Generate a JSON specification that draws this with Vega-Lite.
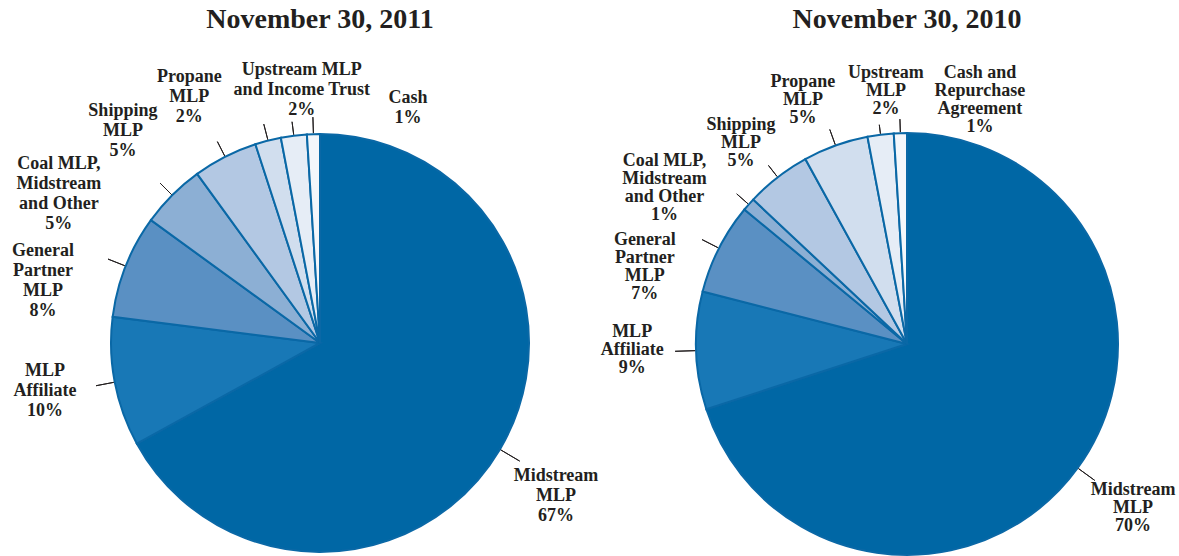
{
  "$schema": "https://vega.github.io/schema/vega-lite/v6.json",
  "padding": {"top": 5, "left": 0, "right": 0, "bottom": 0},
  "spacing": 0,
  "bounds": "flush",
  "background": "white",
  "config": {"view": {"stroke": null}},
  "datasets": {
    "y2011": [
      {"rank": 1, "label": "Midstream\nMLP", "value": 67},
      {"rank": 2, "label": "MLP\nAffiliate", "value": 10},
      {"rank": 3, "label": "General\nPartner\nMLP", "value": 8},
      {"rank": 4, "label": "Coal MLP,\nMidstream\nand Other", "value": 5},
      {"rank": 5, "label": "Shipping\nMLP", "value": 5},
      {"rank": 6, "label": "Propane\nMLP", "value": 2},
      {"rank": 7, "label": "Upstream MLP\nand Income Trust", "value": 2},
      {"rank": 8, "label": "Cash", "value": 1}
    ],
    "y2010": [
      {"rank": 1, "label": "Midstream\nMLP", "value": 70},
      {"rank": 2, "label": "MLP\nAffiliate", "value": 9},
      {"rank": 3, "label": "General\nPartner\nMLP", "value": 7},
      {"rank": 4, "label": "Coal MLP,\nMidstream\nand Other", "value": 1},
      {"rank": 5, "label": "Shipping\nMLP", "value": 5},
      {"rank": 6, "label": "Propane\nMLP", "value": 5},
      {"rank": 7, "label": "Upstream\nMLP", "value": 2},
      {"rank": 8, "label": "Cash and\nRepurchase\nAgreement", "value": 1}
    ]
  },
  "hconcat": [
    {
      "width": 640,
      "height": 420,
      "title": {"text": "November 30, 2011", "font": "Liberation Serif", "fontWeight": "bold", "fontSize": 28, "color": "#231f20", "offset": 27, "frame": "group", "anchor": "middle"},
      "data": {"name": "y2011"},
      "transform": [
        {"window": [{"op": "sum", "field": "value", "as": "cum"}], "sort": [{"field": "rank"}], "frame": [null, 0]},
        {"calculate": "datum.cum - datum.value / 2", "as": "mid"},
        {"calculate": "datum.label + '\\n' + datum.value + '%'", "as": "text"}
      ],
      "layer": [
        {
          "mark": {"type": "arc", "outerRadius": 209, "stroke": "#0a68a6", "strokeWidth": 2},
          "encoding": {
            "theta": {"field": "value", "type": "quantitative", "stack": true, "scale": {"domain": [0, 100]}},
            "order": {"field": "rank", "type": "quantitative"},
            "color": {"field": "rank", "type": "ordinal", "legend": null, "scale": {"domain": [1, 2, 3, 4, 5, 6, 7, 8], "range": ["#0067a5", "#1878b6", "#5a90c3", "#8cafd4", "#b3c8e3", "#d1deee", "#e6edf6", "#f4f7fb"]}}
          }
        },
        {"transform": [{"filter": "datum.rank == 1"}], "layer": [
          {"mark": {"type": "arc", "innerRadius": 210, "outerRadius": 232, "stroke": "#231f20", "strokeWidth": 1, "fill": "transparent"}, "encoding": {"theta": {"field": "mid", "type": "quantitative", "stack": null, "scale": {"domain": [0, 100]}}, "theta2": {"field": "mid"}}},
          {"mark": {"type": "text", "radius": 280, "dx": -5, "dy": -10, "font": "Liberation Serif", "fontWeight": "bold", "fontSize": 18, "lineHeight": 20, "lineBreak": "\n", "fill": "#231f20", "align": "center", "baseline": "middle"}, "encoding": {"theta": {"field": "mid", "type": "quantitative", "stack": null, "scale": {"domain": [0, 100]}}, "text": {"field": "text"}}}
        ]},
        {"transform": [{"filter": "datum.rank == 2"}], "layer": [
          {"mark": {"type": "arc", "innerRadius": 210, "outerRadius": 228, "stroke": "#231f20", "strokeWidth": 1, "fill": "transparent"}, "encoding": {"theta": {"field": "mid", "type": "quantitative", "stack": null, "scale": {"domain": [0, 100]}}, "theta2": {"field": "mid"}}},
          {"mark": {"type": "text", "radius": 279, "dx": -1, "dy": -24.5, "font": "Liberation Serif", "fontWeight": "bold", "fontSize": 18, "lineHeight": 20, "lineBreak": "\n", "fill": "#231f20", "align": "center", "baseline": "middle"}, "encoding": {"theta": {"field": "mid", "type": "quantitative", "stack": null, "scale": {"domain": [0, 100]}}, "text": {"field": "text"}}}
        ]},
        {"transform": [{"filter": "datum.rank == 3"}], "layer": [
          {"mark": {"type": "arc", "innerRadius": 210, "outerRadius": 228, "stroke": "#231f20", "strokeWidth": 1, "fill": "transparent"}, "encoding": {"theta": {"field": "mid", "type": "quantitative", "stack": null, "scale": {"domain": [0, 100]}}, "theta2": {"field": "mid"}}},
          {"mark": {"type": "text", "radius": 285, "dx": -12, "dy": 12.5, "font": "Liberation Serif", "fontWeight": "bold", "fontSize": 18, "lineHeight": 20, "lineBreak": "\n", "fill": "#231f20", "align": "center", "baseline": "middle"}, "encoding": {"theta": {"field": "mid", "type": "quantitative", "stack": null, "scale": {"domain": [0, 100]}}, "text": {"field": "text"}}}
        ]},
        {"transform": [{"filter": "datum.rank == 4"}], "layer": [
          {"mark": {"type": "arc", "innerRadius": 210, "outerRadius": 226, "stroke": "#231f20", "strokeWidth": 1, "fill": "transparent"}, "encoding": {"theta": {"field": "mid", "type": "quantitative", "stack": null, "scale": {"domain": [0, 100]}}, "theta2": {"field": "mid"}}},
          {"mark": {"type": "text", "radius": 300, "dx": -49, "dy": 33.5, "font": "Liberation Serif", "fontWeight": "bold", "fontSize": 18, "lineHeight": 20, "lineBreak": "\n", "fill": "#231f20", "align": "center", "baseline": "middle"}, "encoding": {"theta": {"field": "mid", "type": "quantitative", "stack": null, "scale": {"domain": [0, 100]}}, "text": {"field": "text"}}}
        ]},
        {"transform": [{"filter": "datum.rank == 5"}], "layer": [
          {"mark": {"type": "arc", "innerRadius": 210, "outerRadius": 226, "stroke": "#231f20", "strokeWidth": 1, "fill": "transparent"}, "encoding": {"theta": {"field": "mid", "type": "quantitative", "stack": null, "scale": {"domain": [0, 100]}}, "theta2": {"field": "mid"}}},
          {"mark": {"type": "text", "radius": 291, "dx": -65, "dy": 27.5, "font": "Liberation Serif", "fontWeight": "bold", "fontSize": 18, "lineHeight": 20, "lineBreak": "\n", "fill": "#231f20", "align": "center", "baseline": "middle"}, "encoding": {"theta": {"field": "mid", "type": "quantitative", "stack": null, "scale": {"domain": [0, 100]}}, "text": {"field": "text"}}}
        ]},
        {"transform": [{"filter": "datum.rank == 6"}], "layer": [
          {"mark": {"type": "arc", "innerRadius": 210, "outerRadius": 226, "stroke": "#231f20", "strokeWidth": 1, "fill": "transparent"}, "encoding": {"theta": {"field": "mid", "type": "quantitative", "stack": null, "scale": {"domain": [0, 100]}}, "theta2": {"field": "mid"}}},
          {"mark": {"type": "text", "radius": 280, "dx": -61, "dy": 5.5, "font": "Liberation Serif", "fontWeight": "bold", "fontSize": 18, "lineHeight": 20, "lineBreak": "\n", "fill": "#231f20", "align": "center", "baseline": "middle"}, "encoding": {"theta": {"field": "mid", "type": "quantitative", "stack": null, "scale": {"domain": [0, 100]}}, "text": {"field": "text"}}}
        ]},
        {"transform": [{"filter": "datum.rank == 7"}], "layer": [
          {"mark": {"type": "arc", "innerRadius": 210, "outerRadius": 223, "stroke": "#231f20", "strokeWidth": 1, "fill": "transparent"}, "encoding": {"theta": {"field": "mid", "type": "quantitative", "stack": null, "scale": {"domain": [0, 100]}}, "theta2": {"field": "mid"}}},
          {"mark": {"type": "text", "radius": 257, "dx": 14, "dy": -18.5, "font": "Liberation Serif", "fontWeight": "bold", "fontSize": 18, "lineHeight": 20, "lineBreak": "\n", "fill": "#231f20", "align": "center", "baseline": "middle"}, "encoding": {"theta": {"field": "mid", "type": "quantitative", "stack": null, "scale": {"domain": [0, 100]}}, "text": {"field": "text"}}}
        ]},
        {"transform": [{"filter": "datum.rank == 8"}], "layer": [
          {"mark": {"type": "arc", "innerRadius": 210, "outerRadius": 226, "stroke": "#231f20", "strokeWidth": 1, "fill": "transparent"}, "encoding": {"theta": {"field": "mid", "type": "quantitative", "stack": null, "scale": {"domain": [0, 100]}}, "theta2": {"field": "mid"}}},
          {"mark": {"type": "text", "radius": 253, "dx": 96, "dy": 7.5, "font": "Liberation Serif", "fontWeight": "bold", "fontSize": 18, "lineHeight": 20, "lineBreak": "\n", "fill": "#231f20", "align": "center", "baseline": "middle"}, "encoding": {"theta": {"field": "mid", "type": "quantitative", "stack": null, "scale": {"domain": [0, 100]}}, "text": {"field": "text"}}}
        ]}
      ]
    },
    {
      "width": 534,
      "height": 422,
      "title": {"text": "November 30, 2010", "font": "Liberation Serif", "fontWeight": "bold", "fontSize": 28, "color": "#231f20", "offset": 30, "frame": "group", "anchor": "middle"},
      "data": {"name": "y2010"},
      "transform": [
        {"window": [{"op": "sum", "field": "value", "as": "cum"}], "sort": [{"field": "rank"}], "frame": [null, 0]},
        {"calculate": "datum.cum - datum.value / 2", "as": "mid"},
        {"calculate": "datum.label + '\\n' + datum.value + '%'", "as": "text"}
      ],
      "layer": [
        {
          "mark": {"type": "arc", "outerRadius": 211, "stroke": "#0a68a6", "strokeWidth": 2},
          "encoding": {
            "theta": {"field": "value", "type": "quantitative", "stack": true, "scale": {"domain": [0, 100]}},
            "order": {"field": "rank", "type": "quantitative"},
            "color": {"field": "rank", "type": "ordinal", "legend": null, "scale": {"domain": [1, 2, 3, 4, 5, 6, 7, 8], "range": ["#0067a5", "#1878b6", "#5a90c3", "#8cafd4", "#b3c8e3", "#d1deee", "#e6edf6", "#f4f7fb"]}}
          }
        },
        {"transform": [{"filter": "datum.rank == 1"}], "layer": [
          {"mark": {"type": "arc", "innerRadius": 212, "outerRadius": 232, "stroke": "#231f20", "strokeWidth": 1, "fill": "transparent"}, "encoding": {"theta": {"field": "mid", "type": "quantitative", "stack": null, "scale": {"domain": [0, 100]}}, "theta2": {"field": "mid"}}},
          {"mark": {"type": "text", "radius": 277, "dx": 2, "dy": -16.5, "font": "Liberation Serif", "fontWeight": "bold", "fontSize": 18, "lineHeight": 18, "lineBreak": "\n", "fill": "#231f20", "align": "center", "baseline": "middle"}, "encoding": {"theta": {"field": "mid", "type": "quantitative", "stack": null, "scale": {"domain": [0, 100]}}, "text": {"field": "text"}}}
        ]},
        {"transform": [{"filter": "datum.rank == 2"}], "layer": [
          {"mark": {"type": "arc", "innerRadius": 212, "outerRadius": 232, "stroke": "#231f20", "strokeWidth": 1, "fill": "transparent"}, "encoding": {"theta": {"field": "mid", "type": "quantitative", "stack": null, "scale": {"domain": [0, 100]}}, "theta2": {"field": "mid"}}},
          {"mark": {"type": "text", "radius": 275, "dx": 0, "dy": -21, "font": "Liberation Serif", "fontWeight": "bold", "fontSize": 18, "lineHeight": 18, "lineBreak": "\n", "fill": "#231f20", "align": "center", "baseline": "middle"}, "encoding": {"theta": {"field": "mid", "type": "quantitative", "stack": null, "scale": {"domain": [0, 100]}}, "text": {"field": "text"}}}
        ]},
        {"transform": [{"filter": "datum.rank == 3"}], "layer": [
          {"mark": {"type": "arc", "innerRadius": 212, "outerRadius": 230, "stroke": "#231f20", "strokeWidth": 1, "fill": "transparent"}, "encoding": {"theta": {"field": "mid", "type": "quantitative", "stack": null, "scale": {"domain": [0, 100]}}, "theta2": {"field": "mid"}}},
          {"mark": {"type": "text", "radius": 274, "dx": -18, "dy": 20, "font": "Liberation Serif", "fontWeight": "bold", "fontSize": 18, "lineHeight": 18, "lineBreak": "\n", "fill": "#231f20", "align": "center", "baseline": "middle"}, "encoding": {"theta": {"field": "mid", "type": "quantitative", "stack": null, "scale": {"domain": [0, 100]}}, "text": {"field": "text"}}}
        ]},
        {"transform": [{"filter": "datum.rank == 4"}], "layer": [
          {"mark": {"type": "arc", "innerRadius": 212, "outerRadius": 227, "stroke": "#231f20", "strokeWidth": 1, "fill": "transparent"}, "encoding": {"theta": {"field": "mid", "type": "quantitative", "stack": null, "scale": {"domain": [0, 100]}}, "theta2": {"field": "mid"}}},
          {"mark": {"type": "text", "radius": 290, "dx": -25, "dy": 9, "font": "Liberation Serif", "fontWeight": "bold", "fontSize": 18, "lineHeight": 18, "lineBreak": "\n", "fill": "#231f20", "align": "center", "baseline": "middle"}, "encoding": {"theta": {"field": "mid", "type": "quantitative", "stack": null, "scale": {"domain": [0, 100]}}, "text": {"field": "text"}}}
        ]},
        {"transform": [{"filter": "datum.rank == 5"}], "layer": [
          {"mark": {"type": "arc", "innerRadius": 212, "outerRadius": 226, "stroke": "#231f20", "strokeWidth": 1, "fill": "transparent"}, "encoding": {"theta": {"field": "mid", "type": "quantitative", "stack": null, "scale": {"domain": [0, 100]}}, "theta2": {"field": "mid"}}},
          {"mark": {"type": "text", "radius": 261, "dx": -6, "dy": -13, "font": "Liberation Serif", "fontWeight": "bold", "fontSize": 18, "lineHeight": 18, "lineBreak": "\n", "fill": "#231f20", "align": "center", "baseline": "middle"}, "encoding": {"theta": {"field": "mid", "type": "quantitative", "stack": null, "scale": {"domain": [0, 100]}}, "text": {"field": "text"}}}
        ]},
        {"transform": [{"filter": "datum.rank == 6"}], "layer": [
          {"mark": {"type": "arc", "innerRadius": 212, "outerRadius": 228, "stroke": "#231f20", "strokeWidth": 1, "fill": "transparent"}, "encoding": {"theta": {"field": "mid", "type": "quantitative", "stack": null, "scale": {"domain": [0, 100]}}, "theta2": {"field": "mid"}}},
          {"mark": {"type": "text", "radius": 266, "dx": -14, "dy": -12, "font": "Liberation Serif", "fontWeight": "bold", "fontSize": 18, "lineHeight": 18, "lineBreak": "\n", "fill": "#231f20", "align": "center", "baseline": "middle"}, "encoding": {"theta": {"field": "mid", "type": "quantitative", "stack": null, "scale": {"domain": [0, 100]}}, "text": {"field": "text"}}}
        ]},
        {"transform": [{"filter": "datum.rank == 7"}], "layer": [
          {"mark": {"type": "arc", "innerRadius": 212, "outerRadius": 221, "stroke": "#231f20", "strokeWidth": 1, "fill": "transparent"}, "encoding": {"theta": {"field": "mid", "type": "quantitative", "stack": null, "scale": {"domain": [0, 100]}}, "theta2": {"field": "mid"}}},
          {"mark": {"type": "text", "radius": 256, "dx": 11, "dy": -17, "font": "Liberation Serif", "fontWeight": "bold", "fontSize": 18, "lineHeight": 18, "lineBreak": "\n", "fill": "#231f20", "align": "center", "baseline": "middle"}, "encoding": {"theta": {"field": "mid", "type": "quantitative", "stack": null, "scale": {"domain": [0, 100]}}, "text": {"field": "text"}}}
        ]},
        {"transform": [{"filter": "datum.rank == 8"}], "layer": [
          {"mark": {"type": "arc", "innerRadius": 212, "outerRadius": 225, "stroke": "#231f20", "strokeWidth": 1, "fill": "transparent"}, "encoding": {"theta": {"field": "mid", "type": "quantitative", "stack": null, "scale": {"domain": [0, 100]}}, "theta2": {"field": "mid"}}},
          {"mark": {"type": "text", "radius": 258, "dx": 81, "dy": -13.5, "font": "Liberation Serif", "fontWeight": "bold", "fontSize": 18, "lineHeight": 18, "lineBreak": "\n", "fill": "#231f20", "align": "center", "baseline": "middle"}, "encoding": {"theta": {"field": "mid", "type": "quantitative", "stack": null, "scale": {"domain": [0, 100]}}, "text": {"field": "text"}}}
        ]}
      ]
    }
  ]
}
